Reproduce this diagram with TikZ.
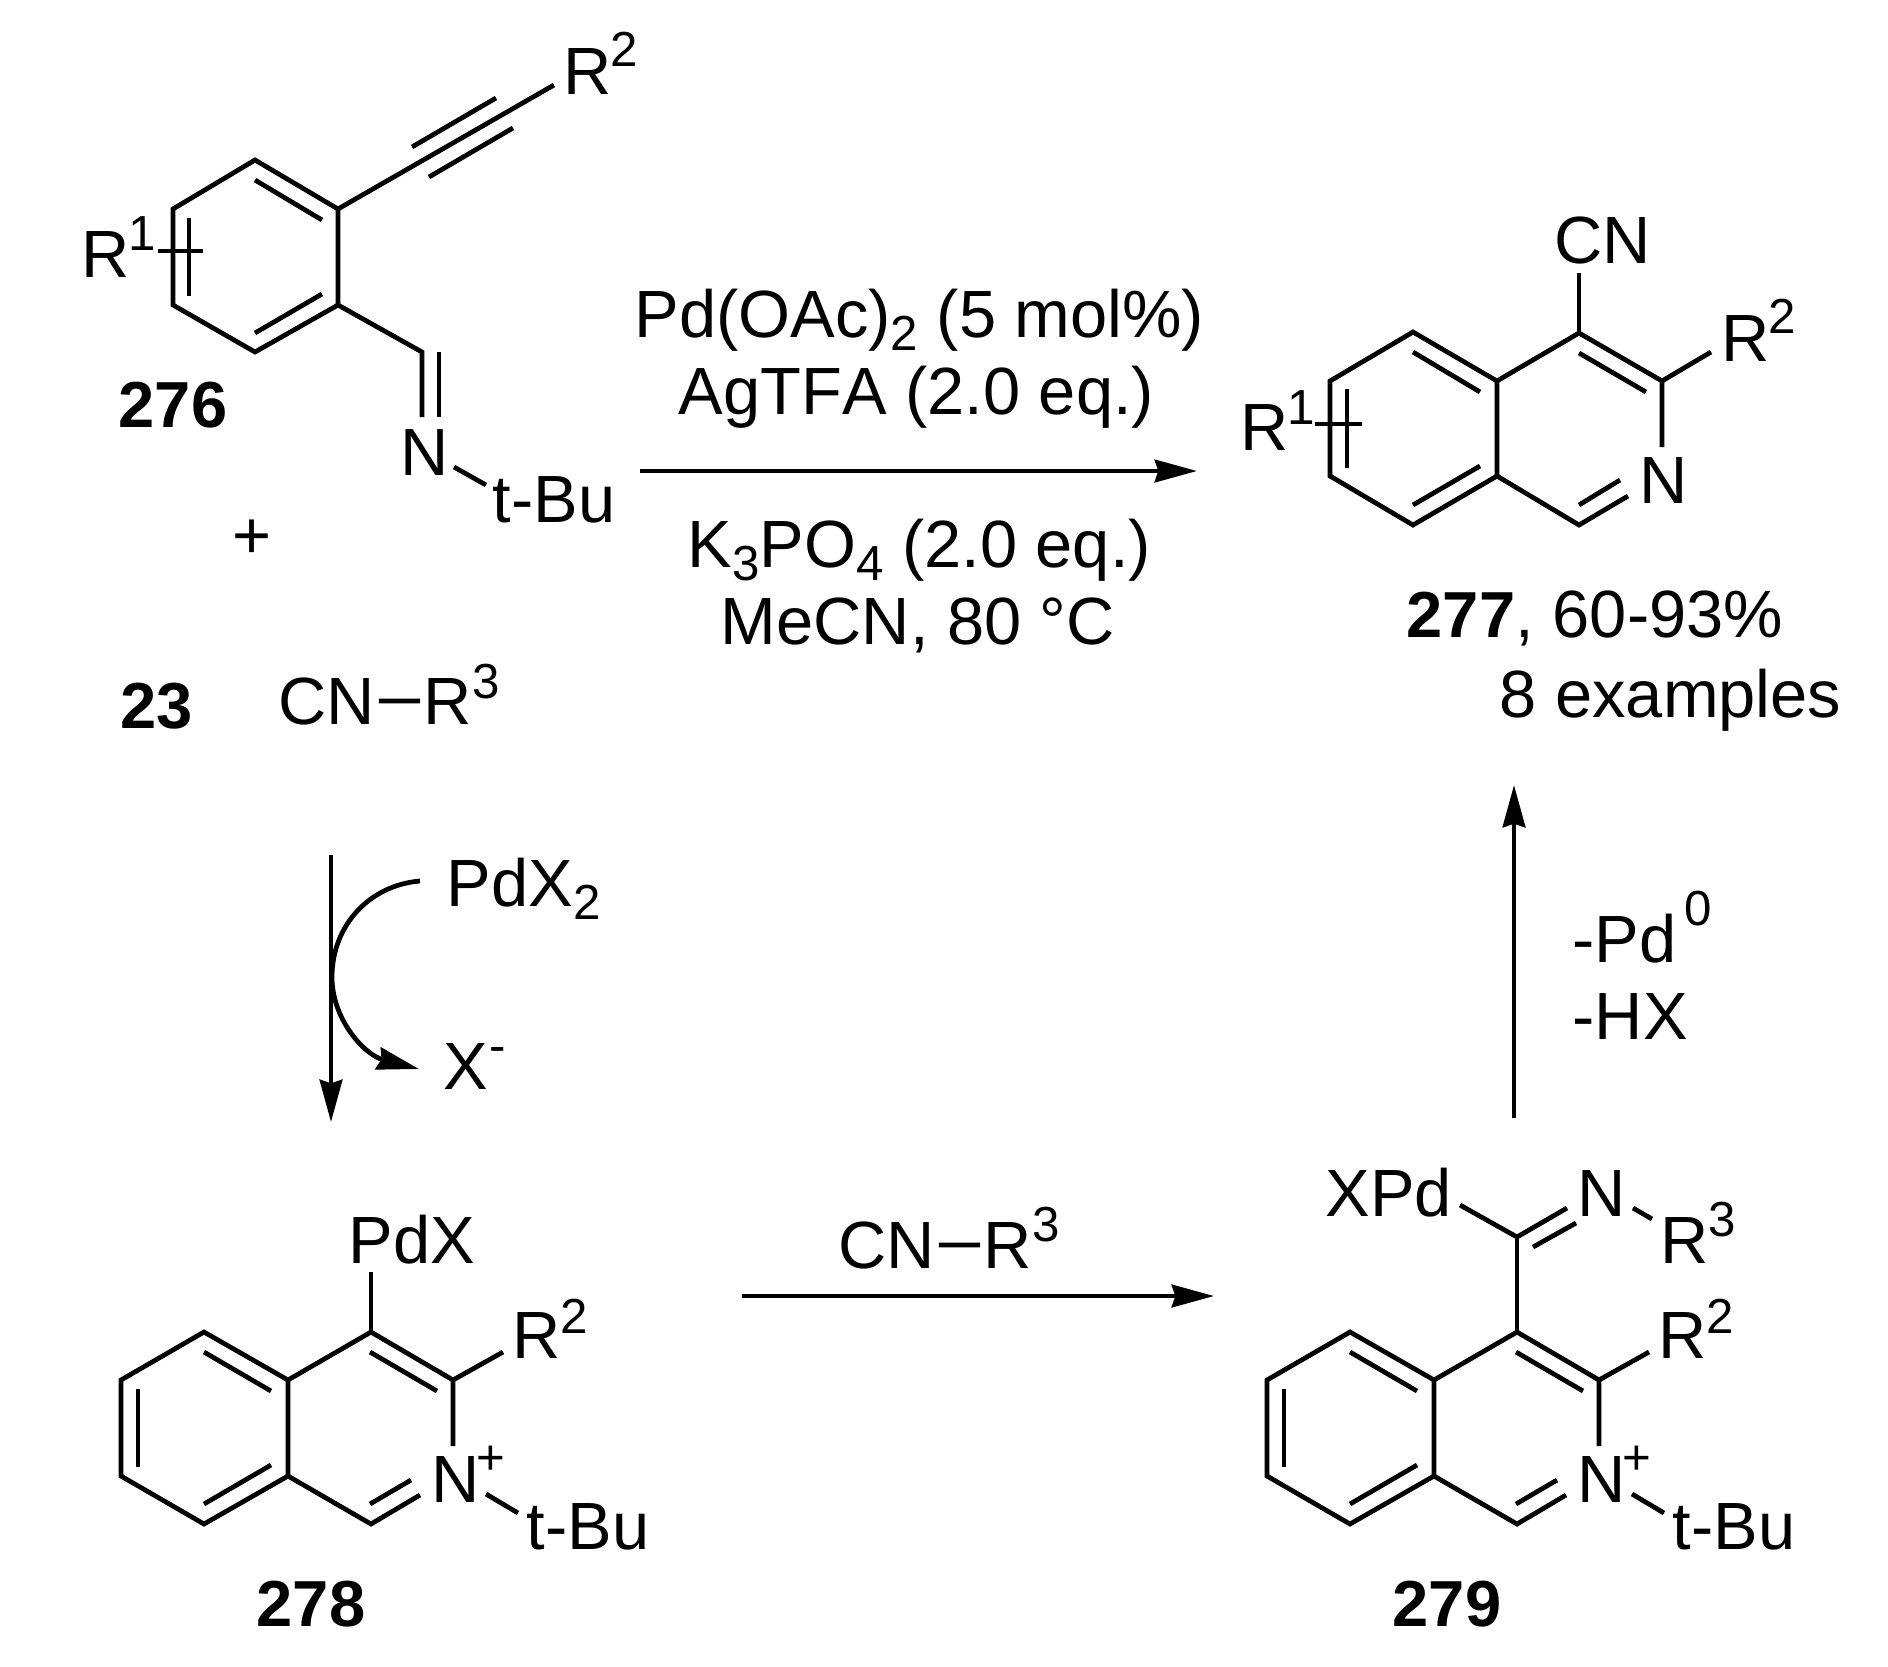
\documentclass[tikz,border=0pt]{standalone}
\usepackage{fontspec}
\setmainfont[Kerning=Off]{Liberation Sans}
\usetikzlibrary{arrows.meta}
\newcommand{\subnum}[1]{\raisebox{-3.7pt}{\fontsize{14}{16}\selectfont #1}}
\tikzset{
  atom/.style={font=\fontsize{19}{22}\selectfont, inner sep=0pt, anchor=base west},
  supatom/.style={font=\fontsize{14}{16}\selectfont, inner sep=0pt, anchor=base west},
  cmpd/.style={font=\fontsize{18.5}{22}\selectfont\bfseries, inner sep=0pt, anchor=base west},
  bond/.style={line width=1.35pt},
  rxn/.style={line width=1.35pt, -{Stealth[length=12pt,width=6.4pt,inset=1pt]}},
  dash bond/.style={bond, shorten <=0.03cm, shorten >=0.03cm},
}
\begin{document}
\begin{tikzpicture}[x=0.01cm,y=-0.01cm]
   \useasboundingbox (0,0) rectangle (1888,1666);
   % 276
   \coordinate (a1) at (255,160);
   \coordinate (a2) at (338,209);
   \coordinate (a3) at (338,305);
   \coordinate (a4) at (255,352);
   \coordinate (a5) at (173,305);
   \coordinate (a6) at (173,209);
   \coordinate (ach) at (422,352);
   \coordinate (aend) at (554,85);
   \draw[bond] (a1) -- (a2) -- (a3) -- (a4) -- (a5) -- (a6) -- cycle;
   \draw[bond] (255,180) -- (322,220);
   \draw[bond] (255,333) -- (322,294);
   \draw[bond] (189,218) -- (189,296);
   \draw[bond] (158,251) -- (203,251);
   \draw[bond] (a2) -- (aend);
   \draw[bond] (412,147) -- (496,98);
   \draw[bond] (429,177) -- (513,128);
   \draw[bond] (a3) -- (ach) -- (422,417);
   \draw[bond] (439,352) -- (439,417);
   \draw[bond] (454,467) -- (486,485);
   \node[atom] (ar1) at (81,277) {R};
   \node[supatom] (ar1s) at (128,250) {1};
   \node[atom] (ar2) at (563,94) {R};
   \node[supatom] (ar2s) at (610,66) {2};
   \node[atom] (an) at (400,475) {N};
   \node[atom] (atbu) at (492,522) {t-Bu};
   \node[cmpd] (c276) at (118,427) {276};
   \node[atom] (plus) at (232,558) {+};
   \node[cmpd] (c23) at (120,728) {23};
   \node[atom] (iso) at (278,724) {CN};
   \node[atom] (isor) at (423,724) {R};
   \node[supatom] (isos) at (472,698) {3};
   \draw[dash bond] (iso.east) -- (isor.west);
   % conditions
   \node[atom] (cond1) at (634,337) {Pd(OAc)\subnum{2} (5 mol\%)};
   \node[atom] (cond2) at (678,414) {AgTFA (2.0 eq.)};
   \node[atom] (cond3) at (687,567) {K\subnum{3}PO\subnum{4} (2.0 eq.)};
   \node[atom] (cond4) at (720,644) {MeCN, 80 °C};
   \coordinate (rs) at (640,471);
   \coordinate (re) at (1197,471);
   \draw[rxn] (rs) -- (re);
   % 277
   \coordinate (b1) at (1413,332);
   \coordinate (b2) at (1497,381);
   \coordinate (b3) at (1497,476);
   \coordinate (b4) at (1413,525);
   \coordinate (b5) at (1330,476);
   \coordinate (b6) at (1330,381);
   \coordinate (b7) at (1579,333);
   \coordinate (b8) at (1662,381);
   \coordinate (b9) at (1579,525);
   \draw[bond] (b1) -- (b2) -- (b3) -- (b4) -- (b5) -- (b6) -- cycle;
   \draw[bond] (b2) -- (b7) -- (b8) -- (1662,447);
   \draw[bond] (b3) -- (b9) -- (1628,496);
   \draw[bond] (1413,352) -- (1480,392);
   \draw[bond] (1413,505) -- (1480,466);
   \draw[bond] (1579,353) -- (1646,392);
   \draw[bond] (1579,505) -- (1620,480);
   \draw[bond] (1347,389) -- (1347,468);
   \draw[bond] (1315,424) -- (1362,424);
   \draw[bond] (b7) -- (1579,273);
   \draw[bond] (b8) -- (1711,352);
   \node[atom] (bcn) at (1554,263) {CN};
   \node[atom] (br2) at (1721,361) {R};
   \node[supatom] (br2s) at (1768,333) {2};
   \node[atom] (bn) at (1639,503) {N};
   \node[atom] (br1) at (1240,450) {R};
   \node[supatom] (br1s) at (1287,424) {1};
   \node[cmpd] (c277) at (1406,637) {277};
   \node[atom] (yield) at (1515,637) {, 60-93\%};
   \node[atom] (nex) at (1499,717) {8 examples};
   % palladation arrow
   \coordinate (ds) at (331,855);
   \coordinate (de) at (331,1122);
   \coordinate (cs) at (420,881);
   \coordinate (cm) at (332,977);
   \coordinate (ce) at (419,1069);
   \draw[rxn] (ds) -- (de);
   \draw[rxn] (cs) .. controls (370,885) and (332,925) .. (cm) .. controls (332,1020) and (365,1055) .. (ce);
   \node[atom] (pdx2) at (446,906) {PdX\subnum{2}};
   \node[atom] (xm) at (443,1089) {X};
   \node[supatom] (xms) at (489,1062) {-};
   % 278 and 279
   \foreach \p/\dx in {d/0,e/1146} {
     \begin{scope}[xshift=\dx*0.01cm]
     \coordinate (\p1) at (204,1332);
     \coordinate (\p2) at (288,1380);
     \coordinate (\p3) at (288,1476);
     \coordinate (\p4) at (204,1524);
     \coordinate (\p5) at (121,1476);
     \coordinate (\p6) at (121,1380);
     \coordinate (\p7) at (371,1332);
     \coordinate (\p8) at (453,1380);
     \coordinate (\p9) at (371,1524);
     \draw[bond] (\p1) -- (\p2) -- (\p3) -- (\p4) -- (\p5) -- (\p6) -- cycle;
     \draw[bond] (\p2) -- (\p7) -- (\p8) -- (453,1446);
     \draw[bond] (\p3) -- (\p9) -- (420,1495);
     \draw[bond] (204,1352) -- (271,1391);
     \draw[bond] (204,1504) -- (271,1465);
     \draw[bond] (138,1389) -- (138,1467);
     \draw[bond] (370,1352) -- (437,1391);
     \draw[bond] (370,1504) -- (411,1480);
     \draw[bond] (\p8) -- (503,1352);
     \draw[bond] (486,1494) -- (518,1513);
     \node[atom] (\p r) at (512,1358) {R};
     \node[supatom] (\p s) at (560,1333) {2};
     \node[atom] (\p n) at (431,1502) {N};
     \node[supatom] (\p pl) at (476,1474) {+};
     \node[atom] (\p t) at (526,1549) {t-Bu};
     \end{scope}
   }
   \draw[bond] (d7) -- (371,1272);
   \node[atom] (dpd) at (348,1263) {PdX};
   \node[cmpd] (c278) at (256,1626) {278};
   % middle arrow
   \node[atom] (mid) at (838,1268) {CN};
   \node[atom] (midr) at (983,1268) {R};
   \node[supatom] (mids) at (1032,1241) {3};
   \draw[dash bond] (mid.east) -- (midr.west);
   \coordinate (ms) at (742,1296);
   \coordinate (me) at (1214,1296);
   \draw[rxn] (ms) -- (me);
   % 279 top
   \coordinate (ec) at (1517,1237);
   \draw[bond] (e7) -- (ec);
   \draw[bond] (ec) -- (1460,1205);
   \draw[bond] (ec) -- (1567,1208);
   \draw[bond] (1533,1247) -- (1576,1223);
   \draw[bond] (1633,1208) -- (1652,1219);
   \node[atom] (expd) at (1325,1216) {XPd};
   \node[atom] (en) at (1577,1216) {N};
   \node[atom] (er) at (1660,1263) {R};
   \node[supatom] (es) at (1708,1236) {3};
   \node[cmpd] (c279) at (1392,1626) {279};
   % last arrow
   \coordinate (us) at (1514,1118);
   \coordinate (ue) at (1514,785);
   \draw[rxn] (us) -- (ue);
   \node[atom] (lpd) at (1572,962) {-Pd};
   \node[supatom] (lpds) at (1684,925) {0};
   \node[atom] (lhx) at (1572,1039) {-HX};
\end{tikzpicture}
\end{document}
